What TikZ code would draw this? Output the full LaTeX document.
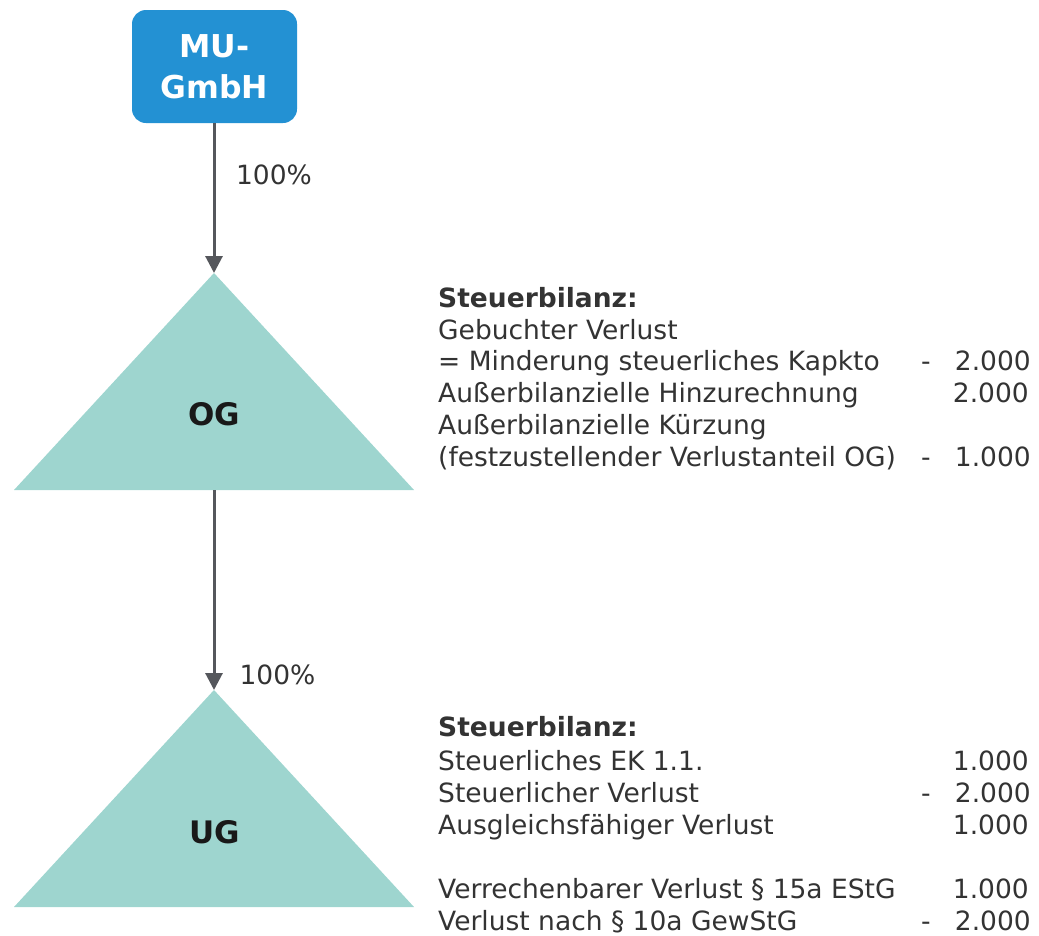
\documentclass[tikz,border=0pt]{standalone}
\usepackage{fontspec}
\setmainfont{DejaVu Sans}
\usetikzlibrary{arrows.meta}
\definecolor{boxblue}{HTML}{2391D3}
\definecolor{teal}{HTML}{9ED5CF}
\definecolor{linegray}{HTML}{55575C}
\definecolor{txt}{HTML}{333333}
\newcommand{\minusamt}[1]{-\hspace{0.92em}#1}
\tikzset{
  conn/.style={draw=linegray, line width=3pt, -{Triangle[width=17pt,length=17pt]}},
  body/.style={inner sep=0pt, text=txt, font=\fontsize{26.5}{32}\selectfont},
  lbl/.style={body, anchor=base west},
  num/.style={body, anchor=base east},
  head/.style={body, anchor=base west, font=\fontsize{26.5}{32}\selectfont\bfseries},
  pct/.style={body},
  entity/.style={inner sep=0pt, text=black!90, font=\fontsize{31}{38}\selectfont\bfseries},
  company/.style={fill=boxblue, rounded corners=14pt, minimum width=165pt, minimum height=113pt,
    text=white, align=center, font=\fontsize{31.5}{41}\selectfont\bfseries, inner sep=0pt},
}
\begin{document}
\begin{tikzpicture}[x=1pt, y=-1pt]
\useasboundingbox (0,0) rectangle (1039,935);

% parent company
\node[company] (mu) at (214.5,66.5) {MU-\\GmbH};

% partnership triangles
\fill[teal] (214,273) -- (414,490) -- (14,490) -- cycle;
\fill[teal] (214,690) -- (414,907) -- (14,907) -- cycle;
\coordinate (ogtop) at (214,273);
\coordinate (ogbase) at (214,490);
\coordinate (ugtop) at (214,690);
\node[entity] (og) at (214.5,414) {OG};
\node[entity] (ug) at (214.5,832) {UG};

% ownership links
\draw[conn] (mu.south -| ogtop) -- (ogtop);
\draw[conn] (ogbase) -- (ugtop);
\node[pct] (p1) at (274,175) {100\%};
\node[pct] (p2) at (277.5,675) {100\%};

% tax balance of OG
\node[head] (h1) at (438,307) {Steuerbilanz:};
\node[lbl] (a1) at (438,339) {Gebuchter Verlust};
\node[lbl] (a2) at (438,370) {= Minderung steuerliches Kapkto};
\node[num] (n2) at (1031,370) {\minusamt{2.000}};
\node[lbl] (a3) at (438,402) {Außerbilanzielle Hinzurechnung};
\node[num] (n3) at (1029,402) {2.000};
\node[lbl] (a4) at (438,434) {Außerbilanzielle Kürzung};
\node[lbl] (a5) at (438,466) {(festzustellender Verlustanteil OG)};
\node[num] (n5) at (1031,466) {\minusamt{1.000}};

% tax balance of UG
\node[head] (h2) at (438,736) {Steuerbilanz:};
\node[lbl] (b1) at (438,770) {Steuerliches EK 1.1.};
\node[num] (m1) at (1029,770) {1.000};
\node[lbl] (b2) at (438,802) {Steuerlicher Verlust};
\node[num] (m2) at (1031,802) {\minusamt{2.000}};
\node[lbl] (b3) at (438,834) {Ausgleichsfähiger Verlust};
\node[num] (m3) at (1029,834) {1.000};
\node[lbl] (b4) at (438,898) {Verrechenbarer Verlust § 15a EStG};
\node[num] (m4) at (1029,898) {1.000};
\node[lbl] (b5) at (438,930) {Verlust nach § 10a GewStG};
\node[num] (m5) at (1031,930) {\minusamt{2.000}};
\end{tikzpicture}
\end{document}
